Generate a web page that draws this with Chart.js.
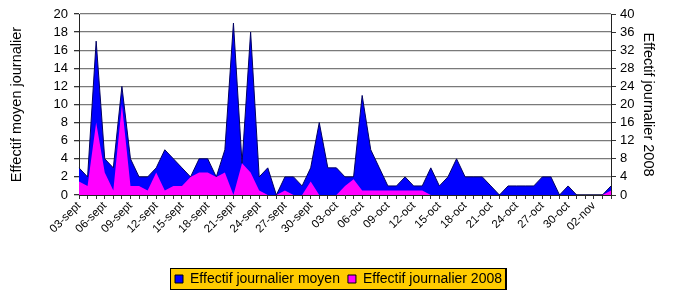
<!DOCTYPE html>
<html>
<head>
<meta charset="utf-8">
<script src="https://cdn.jsdelivr.net/npm/chart.js@4"></script>
<style>
  body { margin: 0; background: #fff; }
</style>
</head>
<body>
<canvas id="chart" width="677" height="292"></canvas>
<script>
const categories = [
  '03-sept','04-sept','05-sept','06-sept','07-sept','08-sept','09-sept','10-sept','11-sept','12-sept',
  '13-sept','14-sept','15-sept','16-sept','17-sept','18-sept','19-sept','20-sept','21-sept','22-sept',
  '23-sept','24-sept','25-sept','26-sept','27-sept','28-sept','29-sept','30-sept',
  '01-oct','02-oct','03-oct','04-oct','05-oct','06-oct','07-oct','08-oct','09-oct','10-oct',
  '11-oct','12-oct','13-oct','14-oct','15-oct','16-oct','17-oct','18-oct','19-oct','20-oct',
  '21-oct','22-oct','23-oct','24-oct','25-oct','26-oct','27-oct','28-oct','29-oct','30-oct','31-oct',
  '01-nov','02-nov','03-nov','04-nov'
];
const shownLabels = [
  '03-sept','06-sept','09-sept','12-sept','15-sept','18-sept','21-sept','24-sept','27-sept','30-sept',
  '03-oct','06-oct','09-oct','12-oct','15-oct','18-oct','21-oct','24-oct','27-oct','30-oct','02-nov'
];
const effectifMoyen = [
  3, 2, 17, 4, 3, 12, 4, 2, 2, 3,
  5, 4, 3, 2, 4, 4, 2, 5, 19, 3.5,
  18, 2, 3, 0, 2, 2, 1, 3, 8, 3,
  3, 2, 2, 11, 5, 3, 1, 1, 2, 1,
  1, 3, 1, 2, 4, 2, 2, 2, 1, 0,
  1, 1, 1, 1, 2, 2, 0, 1, 0, 0,
  0, 0, 1
];
const effectif2008 = [
  3, 2, 16, 5, 1, 20, 2, 2, 1, 5,
  1, 2, 2, 4, 5, 5, 4, 5, 0, 7,
  5, 1, 0, 0, 1, 0, 0, 3, 0, 0,
  0, 2, 3.5, 1, 1, 1, 1, 1, 1, 1,
  1, 0, 0, 0, 0, 0, 0, 0, 0, 0,
  0, 0, 0, 0, 0, 0, 0, 0, 0, 0,
  0, 0, 1
];
const leftTicks = [0, 2, 4, 6, 8, 10, 12, 14, 16, 18, 20];
const rightTicks = [0, 4, 8, 12, 16, 20, 24, 28, 32, 36, 40];

const font = 'Liberation Sans, Arial, sans-serif';

// gold box behind the legend
const legendBox = {
  id: 'legendBox',
  beforeDraw(chart) {
    const boxes = chart.legend && chart.legend.legendHitBoxes;
    if (!boxes || !boxes.length) return;
    const first = boxes[0], last = boxes[boxes.length - 1];
    const x1 = first.left - 5, x2 = last.left + last.width + 5;
    const y1 = first.top - 4, y2 = first.top + first.height + 4;
    const c = chart.ctx;
    c.save();
    c.fillStyle = '#ffcc00';
    c.fillRect(x1, y1, x2 - x1, y2 - y1);
    c.strokeStyle = '#000';
    c.lineWidth = 1;
    c.strokeRect(x1 + 0.5, y1 + 0.5, x2 - x1 - 1, y2 - y1 - 1);
    c.fillStyle = '#000';
    c.fillRect(x2 - 2, y1, 2, y2 - y1);
    c.restore();
  }
};

new Chart(document.getElementById('chart'), {
  type: 'line',
  data: {
    labels: categories,
    datasets: [{
      label: 'Effectif journalier moyen',
      data: effectifMoyen,
      yAxisID: 'y',
      backgroundColor: '#0000ff',
      borderColor: '#000060',
      borderWidth: 1,
      fill: 'origin',
      pointRadius: 0,
      tension: 0,
      order: 1
    }, {
      label: 'Effectif journalier 2008',
      data: effectif2008,
      yAxisID: 'y1',
      backgroundColor: '#ff00ff',
      borderColor: '#ff00ff',
      borderWidth: 0,
      fill: 'origin',
      pointRadius: 0,
      tension: 0,
      order: 0
    }]
  },
  options: {
    responsive: false,
    animation: false,
    layout: { padding: { top: 14, bottom: -4, left: 0, right: 0 } },
    plugins: {
      tooltip: { enabled: false },
      legend: {
        position: 'bottom',
        labels: {
          color: '#000',
          font: { family: font, size: 14 },
          boxWidth: 8,
          boxHeight: 8,
          padding: 8,
          generateLabels(chart) {
            return chart.data.datasets.map((ds, i) => ({
              text: ds.label,
              fillStyle: ds.backgroundColor,
              strokeStyle: '#000',
              lineWidth: 1,
              datasetIndex: i,
              fontColor: '#000'
            }));
          }
        }
      }
    },
    scales: {
      x: {
        grid: { drawOnChartArea: false, tickLength: 4, tickColor: '#333' },
        border: { color: '#222', width: 1 },
        ticks: {
          autoSkip: false,
          maxRotation: 45,
          minRotation: 45,
          padding: 0,
          color: '#000',
          font: { family: font, size: 11.5 },
          callback(v) {
            const lab = categories[v];
            return shownLabels.includes(lab) ? lab : '';
          }
        },
        afterFit(scale) { scale.height = 69; }
      },
      y: {
        position: 'left',
        min: 0,
        max: 20,
        afterBuildTicks(scale) { scale.ticks = leftTicks.map(v => ({ value: v })); },
        grid: { color: '#7a7a7a', lineWidth: 1.3, tickLength: 5, tickColor: '#333' },
        border: { color: '#222', width: 1 },
        ticks: { autoSkip: false, color: '#000', padding: 6, font: { family: font, size: 13 } },
        title: {
          display: true,
          text: 'Effectif moyen journalier',
          color: '#000',
          font: { family: font, size: 14.5 },
          padding: { top: 8, bottom: 0 }
        },
        afterFit(scale) { scale.width = 79; }
      },
      y1: {
        position: 'right',
        min: 0,
        max: 40,
        afterBuildTicks(scale) { scale.ticks = rightTicks.map(v => ({ value: v })); },
        grid: { drawOnChartArea: false, tickLength: 5, tickColor: '#333' },
        border: { color: '#222', width: 1 },
        ticks: { autoSkip: false, color: '#000', padding: 4, font: { family: font, size: 13 } },
        title: {
          display: true,
          text: 'Effectif journalier 2008',
          color: '#000',
          font: { family: font, size: 14.5 },
          padding: { top: 20, bottom: 0 }
        },
        afterFit(scale) { scale.width = 66; }
      }
    }
  },
  plugins: [legendBox]
});
</script>
</body>
</html>
